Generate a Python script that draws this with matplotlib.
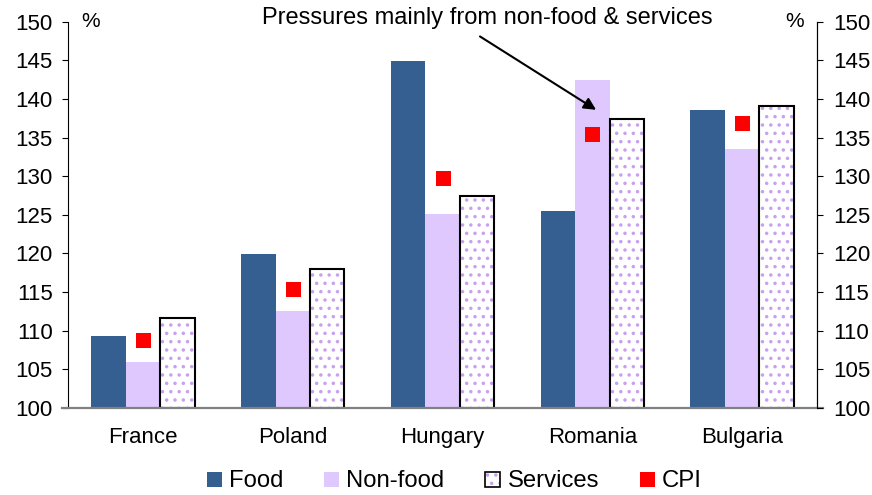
import numpy as np
import matplotlib
matplotlib.use("Agg")
import matplotlib.pyplot as plt
from matplotlib.patches import Patch, Rectangle
from matplotlib.lines import Line2D
from matplotlib.legend_handler import HandlerBase

plt.rcParams['font.family'] = ['Liberation Sans', 'DejaVu Sans']
plt.rcParams['hatch.linewidth'] = 1.3

countries = ["France", "Poland", "Hungary", "Romania", "Bulgaria"]
food = [109.3, 119.9, 144.9, 125.5, 138.6]
non_food = [106.0, 112.6, 125.1, 142.4, 133.5]
services = [111.7, 118.0, 127.5, 137.4, 139.1]
cpi = [108.8, 115.4, 129.8, 135.5, 136.9]
yticks = [100, 105, 110, 115, 120, 125, 130, 135, 140, 145, 150]

FOOD_C = "#365F91"
NONFOOD_C = "#DFC8FD"
DOT_C = "#C9A0F0"
CPI_C = "#FF0000"

fig = plt.figure(figsize=(8.72, 4.95), dpi=100)
ax = fig.add_axes([0.078, 0.176, 0.859, 0.780])

x = np.arange(len(countries))
w = 0.23
base = 100

ax.bar(x - w, np.array(food) - base, w, bottom=base, color=FOOD_C, linewidth=0)
ax.bar(x, np.array(non_food) - base, w, bottom=base, color=NONFOOD_C, linewidth=0)
ax.bar(x + w, np.array(services) - base, w, bottom=base, color="white",
       edgecolor=DOT_C, hatch="..", linewidth=0)
ax.bar(x + w, np.array(services) - base, w, bottom=base, fill=False,
       edgecolor="black", linewidth=1.5)
ax.plot(x, cpi, linestyle="none", marker="s", markersize=10.8,
        color=CPI_C, markeredgewidth=0)

ax.set_xlim(-0.5, len(countries) - 0.5)
ax.set_ylim(100, 150)
ax.set_yticks(yticks)
ax.set_xticks(x)
ax.set_xticklabels(countries, fontsize=16)
ax.tick_params(axis="x", length=0, pad=14)
ax.tick_params(axis="y", direction="out", length=4, labelsize=16, pad=7)
ax.spines["top"].set_visible(False)
ax.spines["bottom"].set_visible(False)

# baseline extends slightly past both vertical axes
ax.add_line(Line2D([-0.008, 1.008], [0, 0], transform=ax.transAxes,
                   color="#808080", linewidth=1.6, clip_on=False, zorder=3))

ax2 = ax.twinx()
ax2.set_ylim(100, 150)
ax2.set_yticks(yticks)
ax2.tick_params(axis="y", direction="out", length=4, labelsize=16, pad=8)
ax2.spines["top"].set_visible(False)
ax2.spines["bottom"].set_visible(False)
ax2.spines["left"].set_visible(False)

ax.text(0.018, 150, "%", fontsize=15, va="center", ha="left",
        transform=ax.get_yaxis_transform())
ax.text(0.982, 150, "%", fontsize=15, va="center", ha="right",
        transform=ax.get_yaxis_transform())

ax.text(2.297, 150.5, "Pressures mainly from non-food & services",
        fontsize=17, ha="center", va="center")
ax.annotate("", xy=(3.025, 138.6), xytext=(2.25, 148.1),
            arrowprops=dict(arrowstyle="-|>", color="black", lw=1.5,
                            shrinkA=0, shrinkB=0, mutation_scale=18))


class ServicesHandler(HandlerBase):
    def create_artists(self, legend, orig_handle, xdescent, ydescent,
                       width, height, fontsize, trans):
        s = min(width, height)
        x0 = xdescent + (width - s) / 2
        r1 = Rectangle((x0, -ydescent), s, s, facecolor="white",
                       edgecolor=DOT_C, hatch="..", linewidth=0,
                       transform=trans)
        r2 = Rectangle((x0, -ydescent), s, s, fill=False,
                       edgecolor="black", linewidth=1.2, transform=trans)
        return [r1, r2]


class SquareHandler(HandlerBase):
    def create_artists(self, legend, orig_handle, xdescent, ydescent,
                       width, height, fontsize, trans):
        s = min(width, height)
        x0 = xdescent + (width - s) / 2
        r = Rectangle((x0, -ydescent), s, s,
                      facecolor=orig_handle.get_facecolor(), linewidth=0,
                      transform=trans)
        return [r]


h_food = Patch(facecolor=FOOD_C)
h_non = Patch(facecolor=NONFOOD_C)
h_srv = Patch(facecolor="white")
h_cpi = Patch(facecolor=CPI_C)
fig.legend([h_food, h_non, h_srv, h_cpi],
           ["Food", "Non-food", "Services", "CPI"],
           handler_map={h_food: SquareHandler(), h_non: SquareHandler(),
                        h_srv: ServicesHandler(), h_cpi: SquareHandler()},
           loc="center", bbox_to_anchor=(0.521, 0.028), ncol=4, frameon=False,
           fontsize=17.2, handlelength=0.63, handleheight=0.63,
           handletextpad=0.3, columnspacing=1.7, borderpad=0.1)

fig.savefig("out.png", dpi=100)
